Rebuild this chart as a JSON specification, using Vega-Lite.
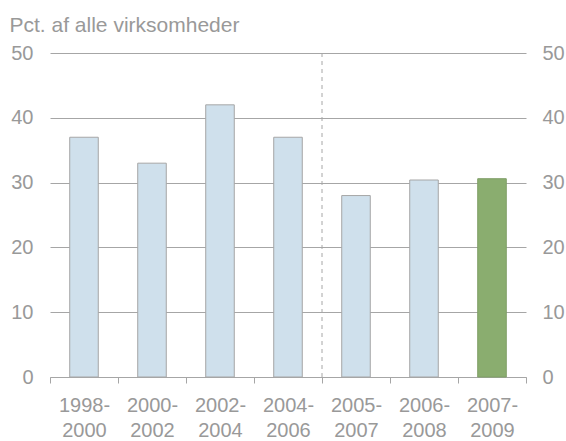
{
  "$schema": "https://vega.github.io/schema/vega-lite/v6.json",
  "width": 476,
  "height": 324,
  "autosize": {"type": "none"},
  "padding": {"left": 50, "top": 53, "right": 40, "bottom": 64},
  "background": "white",
  "config": {
    "font": "Liberation Sans",
    "view": {"stroke": null}
  },
  "data": {
    "values": [
      {"periode": "1998-2000", "pct": 37, "type": "a"},
      {"periode": "2000-2002", "pct": 33, "type": "a"},
      {"periode": "2002-2004", "pct": 42, "type": "a"},
      {"periode": "2004-2006", "pct": 37, "type": "a"},
      {"periode": "2005-2007", "pct": 28, "type": "a"},
      {"periode": "2006-2008", "pct": 30.4, "type": "a"},
      {"periode": "2007-2009", "pct": 30.6, "type": "b"}
    ]
  },
  "resolve": {"axis": {"y": "independent"}},
  "layer": [
    {
      "mark": {"type": "bar", "width": {"band": 0.42}, "strokeWidth": 1},
      "encoding": {
        "x": {
          "field": "periode", "type": "nominal", "sort": null,
          "scale": {"paddingInner": 0, "paddingOuter": 0},
          "axis": {
            "title": null, "labelAngle": 0, "labelFontSize": 20, "labelColor": "#999999",
            "labelLineHeight": 25, "labelPadding": 12,
            "labelExpr": "[slice(datum.label,0,5), slice(datum.label,5)]",
            "tickBand": "extent", "tickSize": 6, "tickColor": "#a6a6a6",
            "domainColor": "#a6a6a6", "grid": false
          }
        },
        "y": {
          "field": "pct", "type": "quantitative",
          "scale": {"domain": [0, 50]},
          "axis": {
            "values": [0, 10, 20, 30, 40, 50],
            "domain": false, "ticks": false,
            "labelFontSize": 20, "labelColor": "#999999", "labelPadding": 17,
            "grid": true, "gridColor": "#a6a6a6",
            "title": "Pct. af alle virksomheder",
            "titleAngle": 0, "titleAlign": "left", "titleBaseline": "alphabetic",
            "titleX": -41, "titleY": -22, "titleFontSize": 21, "titleFontWeight": "normal",
            "titleColor": "#999999"
          }
        },
        "color": {
          "field": "type", "type": "nominal", "legend": null,
          "scale": {"domain": ["a", "b"], "range": ["#cfe0ec", "#8aad6f"]}
        },
        "stroke": {
          "field": "type", "type": "nominal", "legend": null,
          "scale": {"domain": ["a", "b"], "range": ["#a6a6a6", "#7f9e66"]}
        }
      }
    },
    {
      "mark": {"type": "bar", "width": {"band": 0.42}, "opacity": 0},
      "encoding": {
        "x": {"field": "periode", "type": "nominal", "sort": null},
        "y": {
          "field": "pct", "type": "quantitative",
          "axis": {
            "orient": "right",
            "values": [0, 10, 20, 30, 40, 50],
            "domain": false, "ticks": false, "grid": false,
            "labelFontSize": 20, "labelColor": "#999999", "labelPadding": 16,
            "title": null
          }
        }
      }
    },
    {
      "data": {"values": [{"periode": "2005-2007"}]},
      "mark": {"type": "rule", "color": "#a6a6a6", "strokeDash": [4, 4], "strokeWidth": 1},
      "encoding": {
        "x": {"field": "periode", "type": "nominal", "bandPosition": 0}
      }
    }
  ]
}
